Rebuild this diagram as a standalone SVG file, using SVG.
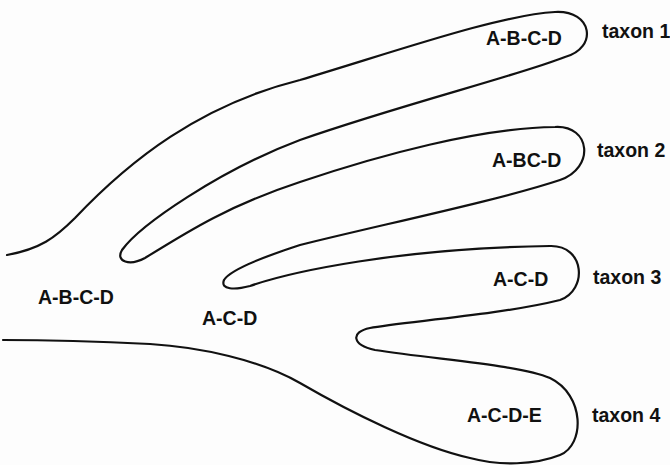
<svg xmlns="http://www.w3.org/2000/svg" width="670" height="465" viewBox="0 0 670 465">
<style>
.o{fill:none;stroke:#111;stroke-width:2.2;stroke-linecap:round;stroke-linejoin:round}
.t{font-family:"Liberation Sans",Arial,sans-serif;font-weight:bold;font-size:19.5px;fill:#111}
</style>
<rect width="670" height="465" fill="#fdfdfd"/>
<g id="outline">
<path class="o" d="M 7,255 C 40,249 55,238 75,218 C 130,160 200,105 300,80 C 400,50 500,15 555,12 C 593,10 598,48 565,57 C 520,75 400,105 300,140 C 220,170 140,225 122,250 C 115,262 130,266 145,258 C 190,230 230,205 300,182 C 380,155 480,128 555,127 C 591,125 595,168 560,180 C 500,200 380,225 300,245 C 260,258 230,270 224,280 C 220,290 235,290 250,286 C 290,272 400,248 550,246 C 585,245 588,290 560,300 C 500,315 400,322 370,328 C 350,332 352,345 375,350 C 440,360 520,365 550,378 C 585,395 585,445 560,455 C 535,465 500,466 470,458 C 420,447 350,412 300,383 C 260,360 200,347 150,344 C 90,341 40,340 3,340"/>
</g>
<g id="ancestor"><text class="t" x="38" y="304">A-B-C-D</text></g>
<g id="node2"><text class="t" x="202" y="325">A-C-D</text></g>
<g id="taxon1"><text class="t" x="486" y="45">A-B-C-D</text><text class="t" x="602" y="38">taxon 1</text></g>
<g id="taxon2"><text class="t" x="492" y="167">A-BC-D</text><text class="t" x="597" y="157">taxon 2</text></g>
<g id="taxon3"><text class="t" x="493" y="286">A-C-D</text><text class="t" x="593" y="284">taxon 3</text></g>
<g id="taxon4"><text class="t" x="467" y="422">A-C-D-E</text><text class="t" x="592" y="422">taxon 4</text></g>
</svg>
